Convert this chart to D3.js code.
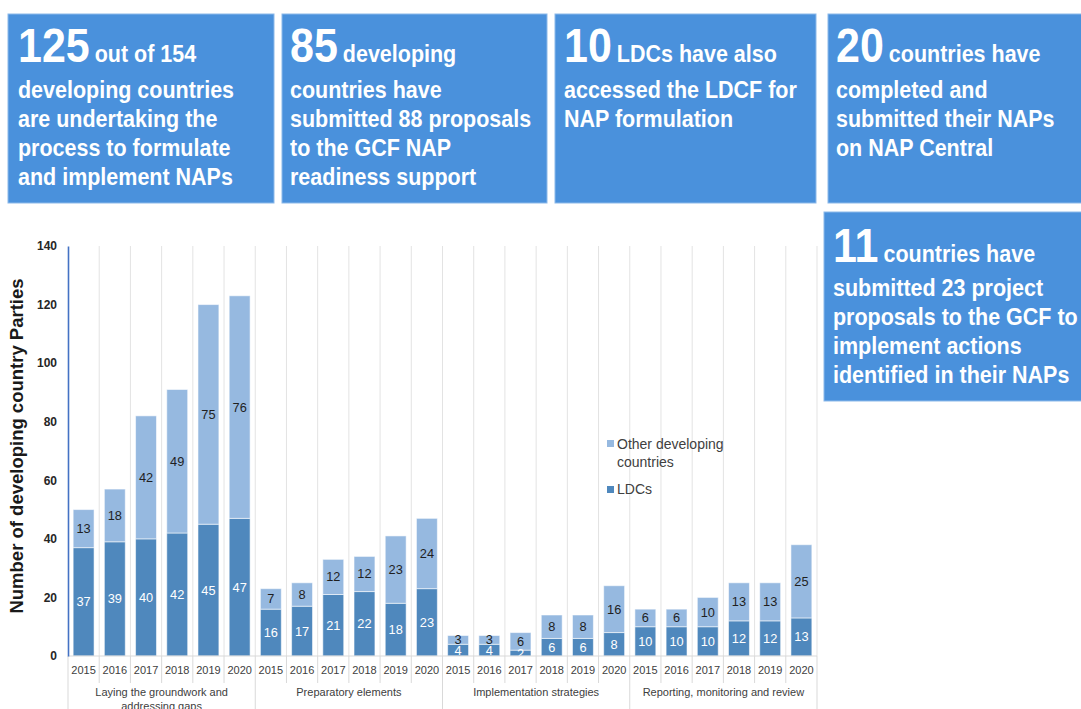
<!DOCTYPE html>
<html>
<head>
<meta charset="utf-8">
<script src="https://cdn.jsdelivr.net/npm/d3@7"></script>
<style>
  html, body { margin: 0; padding: 0; background: #fff; }
  svg { display: block; font-family: "Liberation Sans", Arial, sans-serif; }
</style>
</head>
<body>
<svg id="chart" width="1081" height="709"></svg>
<script>
// NAP progress: stacked bars per element of the NAP process, 2015-2020
const groups = [
  ["Laying the groundwork and", "addressing gaps"],
  ["Preparatory elements"],
  ["Implementation strategies"],
  ["Reporting, monitoring and review"]
];
const years = ["2015", "2016", "2017", "2018", "2019", "2020"];
const ldcValues = [
  [37, 39, 40, 42, 45, 47],
  [16, 17, 21, 22, 18, 23],
  [4, 4, 2, 6, 6, 8],
  [10, 10, 10, 12, 12, 13]
];
const otherValues = [
  [13, 18, 42, 49, 75, 76],
  [7, 8, 12, 12, 23, 24],
  [3, 3, 6, 8, 8, 16],
  [6, 6, 10, 13, 13, 25]
];
const yTicks = [0, 20, 40, 60, 80, 100, 120, 140];
const seriesNames = ["Other developing countries", "LDCs"];

// Key-figure panels: big number, trailing words, following lines
const panels = [
  { num: "125", head: "out of 154", lines: ["developing countries", "are undertaking the", "process to formulate", "and implement NAPs"] },
  { num: "85", head: "developing", lines: ["countries have", "submitted 88 proposals", "to the GCF NAP", "readiness support"] },
  { num: "10", head: "LDCs have also", lines: ["accessed the LDCF for", "NAP formulation"] },
  { num: "20", head: "countries have", lines: ["completed and", "submitted their NAPs", "on NAP Central"] },
  { num: "11", head: "countries have", lines: ["submitted 23 project", "proposals to the GCF to", "implement actions", "identified in their NAPs"] }
];
const panelBoxes = [
  { x: 8, y: 14, w: 266, h: 189, pad: 10 },
  { x: 282, y: 14, w: 265, h: 189, pad: 8 },
  { x: 555, y: 14, w: 261, h: 189, pad: 9 },
  { x: 828, y: 14, w: 260, h: 189, pad: 8 },
  { x: 824, y: 212, w: 264, h: 189, pad: 9 }
];

const svg = d3.select("#chart");
const colLDC = "#4f88bd";
const colOther = "#96b9e0";
const panelBlue = "#4a91dc";

// ---- panels ----
panels.forEach((p, i) => {
  const b = panelBoxes[i];
  const g = svg.append("g").attr("transform", `translate(${b.x},${b.y})`);
  g.append("rect").attr("width", b.w).attr("height", b.h)
    .attr("fill", panelBlue).attr("stroke", "#8cb9ea").attr("stroke-width", 1);
  const first = g.append("text")
    .attr("transform", `translate(${b.pad},${i === 4 ? 50 : 48}) scale(1,1.12)`)
    .attr("fill", "#fff").attr("font-weight", "bold");
  first.append("tspan").attr("font-size", 43).text(p.num);
  first.append("tspan").attr("font-size", 21.5).attr("dx", 5).text(p.head);
  p.lines.forEach((ln, k) => {
    g.append("text")
      .attr("transform", `translate(${b.pad},${84 + 29 * k}) scale(1,1.08)`)
      .attr("fill", "#fff").attr("font-weight", "bold").attr("font-size", 21.5)
      .text(ln);
  });
});

// ---- chart ----
const rows = [];
groups.forEach((gname, gi) => {
  years.forEach((yr, yi) => {
    rows.push({ id: gi + "-" + yr, group: gi, year: yr, ldc: ldcValues[gi][yi], other: otherValues[gi][yi] });
  });
});

const x0 = 68, x1 = 817, yBase = 656, yTop = 246;
const x = d3.scaleBand().domain(rows.map(d => d.id)).range([x0, x1])
  .paddingInner(0.33).paddingOuter(0.165);
const y = d3.scaleLinear().domain([0, 140]).range([yBase, yTop]);
const step = x.step();

// vertical gridlines at slot boundaries
const bounds = d3.range(rows.length + 1).map(i => x0 + i * step);
svg.append("g").selectAll("line").data(bounds.slice(1)).join("line")
  .attr("x1", d => d).attr("x2", d => d).attr("y1", yTop).attr("y2", yBase)
  .attr("stroke", "#e3e3e3").attr("stroke-width", 1);

// stacked bars
const stack = d3.stack().keys(["ldc", "other"]);
const layers = stack(rows);
const colors = { ldc: colLDC, other: colOther };
const barG = svg.append("g");
layers.forEach(layer => {
  barG.append("g").selectAll("rect").data(layer).join("rect")
    .attr("x", d => x(d.data.id))
    .attr("width", x.bandwidth())
    .attr("y", d => y(d[1]))
    .attr("height", d => y(d[0]) - y(d[1]))
    .attr("fill", colors[layer.key])
    .attr("stroke", "#ffffff").attr("stroke-opacity", 0.55).attr("stroke-width", 1);
});

// value labels
layers.forEach(layer => {
  svg.append("g").selectAll("text").data(layer).join("text")
    .attr("x", d => x(d.data.id) + x.bandwidth() / 2)
    .attr("y", d => y((d[0] + d[1]) / 2))
    .attr("dy", "0.35em")
    .attr("text-anchor", "middle")
    .attr("font-size", 12.8)
    .attr("fill", layer.key === "ldc" ? "#ffffff" : "#1f1f1f")
    .text(d => d.data[layer.key]);
});

// white band under the baseline hides overflowing labels
svg.append("rect").attr("x", x0).attr("y", yBase + 0.5).attr("width", x1 - x0 + 2).attr("height", 60).attr("fill", "#fff");

// x axis: baseline, year labels, separators
svg.append("line").attr("x1", x0).attr("x2", x1).attr("y1", yBase).attr("y2", yBase)
  .attr("stroke", "#d9d9d9");
const xAxis = d3.axisBottom(x).tickSize(0).tickPadding(10).tickFormat(id => id.split("-")[1]);
const xa = svg.append("g").attr("transform", `translate(0,${yBase})`).call(xAxis);
xa.select(".domain").remove();
xa.selectAll("text").attr("font-size", 11).attr("fill", "#404040")
  .attr("font-family", "'Liberation Sans', Arial, sans-serif");

svg.append("g").selectAll("line").data(bounds).join("line")
  .attr("x1", d => d).attr("x2", d => d)
  .attr("y1", yBase)
  .attr("y2", (d, i) => (i % years.length === 0 ? 709 : 683))
  .attr("stroke", "#d9d9d9");

// group labels
groups.forEach((lines, gi) => {
  const cx = x0 + (gi * years.length + years.length / 2) * step;
  const t = svg.append("text").attr("text-anchor", "middle").attr("font-size", 11).attr("fill", "#404040");
  lines.forEach((ln, k) => {
    t.append("tspan").attr("x", cx).attr("y", 696 + k * 14).text(ln);
  });
});

// y axis
const ya = svg.append("g").attr("transform", `translate(${x0},0)`)
  .call(d3.axisLeft(y).tickValues(yTicks).tickSize(0).tickPadding(11));
ya.select(".domain").attr("stroke", "#4472c4").attr("stroke-width", 1.6);
ya.selectAll("text").attr("font-size", 12).attr("font-weight", "bold").attr("fill", "#262626")
  .attr("font-family", "'Liberation Sans', Arial, sans-serif");

// y title
svg.append("text")
  .attr("transform", `translate(23,446) rotate(-90)`)
  .attr("text-anchor", "middle").attr("font-size", 18.5).attr("font-weight", "bold")
  .attr("fill", "#1a1a1a")
  .text("Number of developing country Parties");

// legend
const legend = svg.append("g").attr("transform", "translate(607,0)");
legend.append("rect").attr("x", 0).attr("y", 440).attr("width", 7).attr("height", 7).attr("fill", colOther);
legend.append("text").attr("x", 10).attr("y", 449).attr("font-size", 14).attr("fill", "#404040")
  .selectAll("tspan").data(["Other developing", "countries"]).join("tspan")
  .attr("x", 10).attr("dy", (d, i) => (i === 0 ? 0 : 18)).text(d => d);
legend.append("rect").attr("x", 0).attr("y", 486).attr("width", 7).attr("height", 7).attr("fill", colLDC);
legend.append("text").attr("x", 10).attr("y", 494).attr("font-size", 14).attr("fill", "#404040").text(seriesNames[1]);
</script>
</body>
</html>
